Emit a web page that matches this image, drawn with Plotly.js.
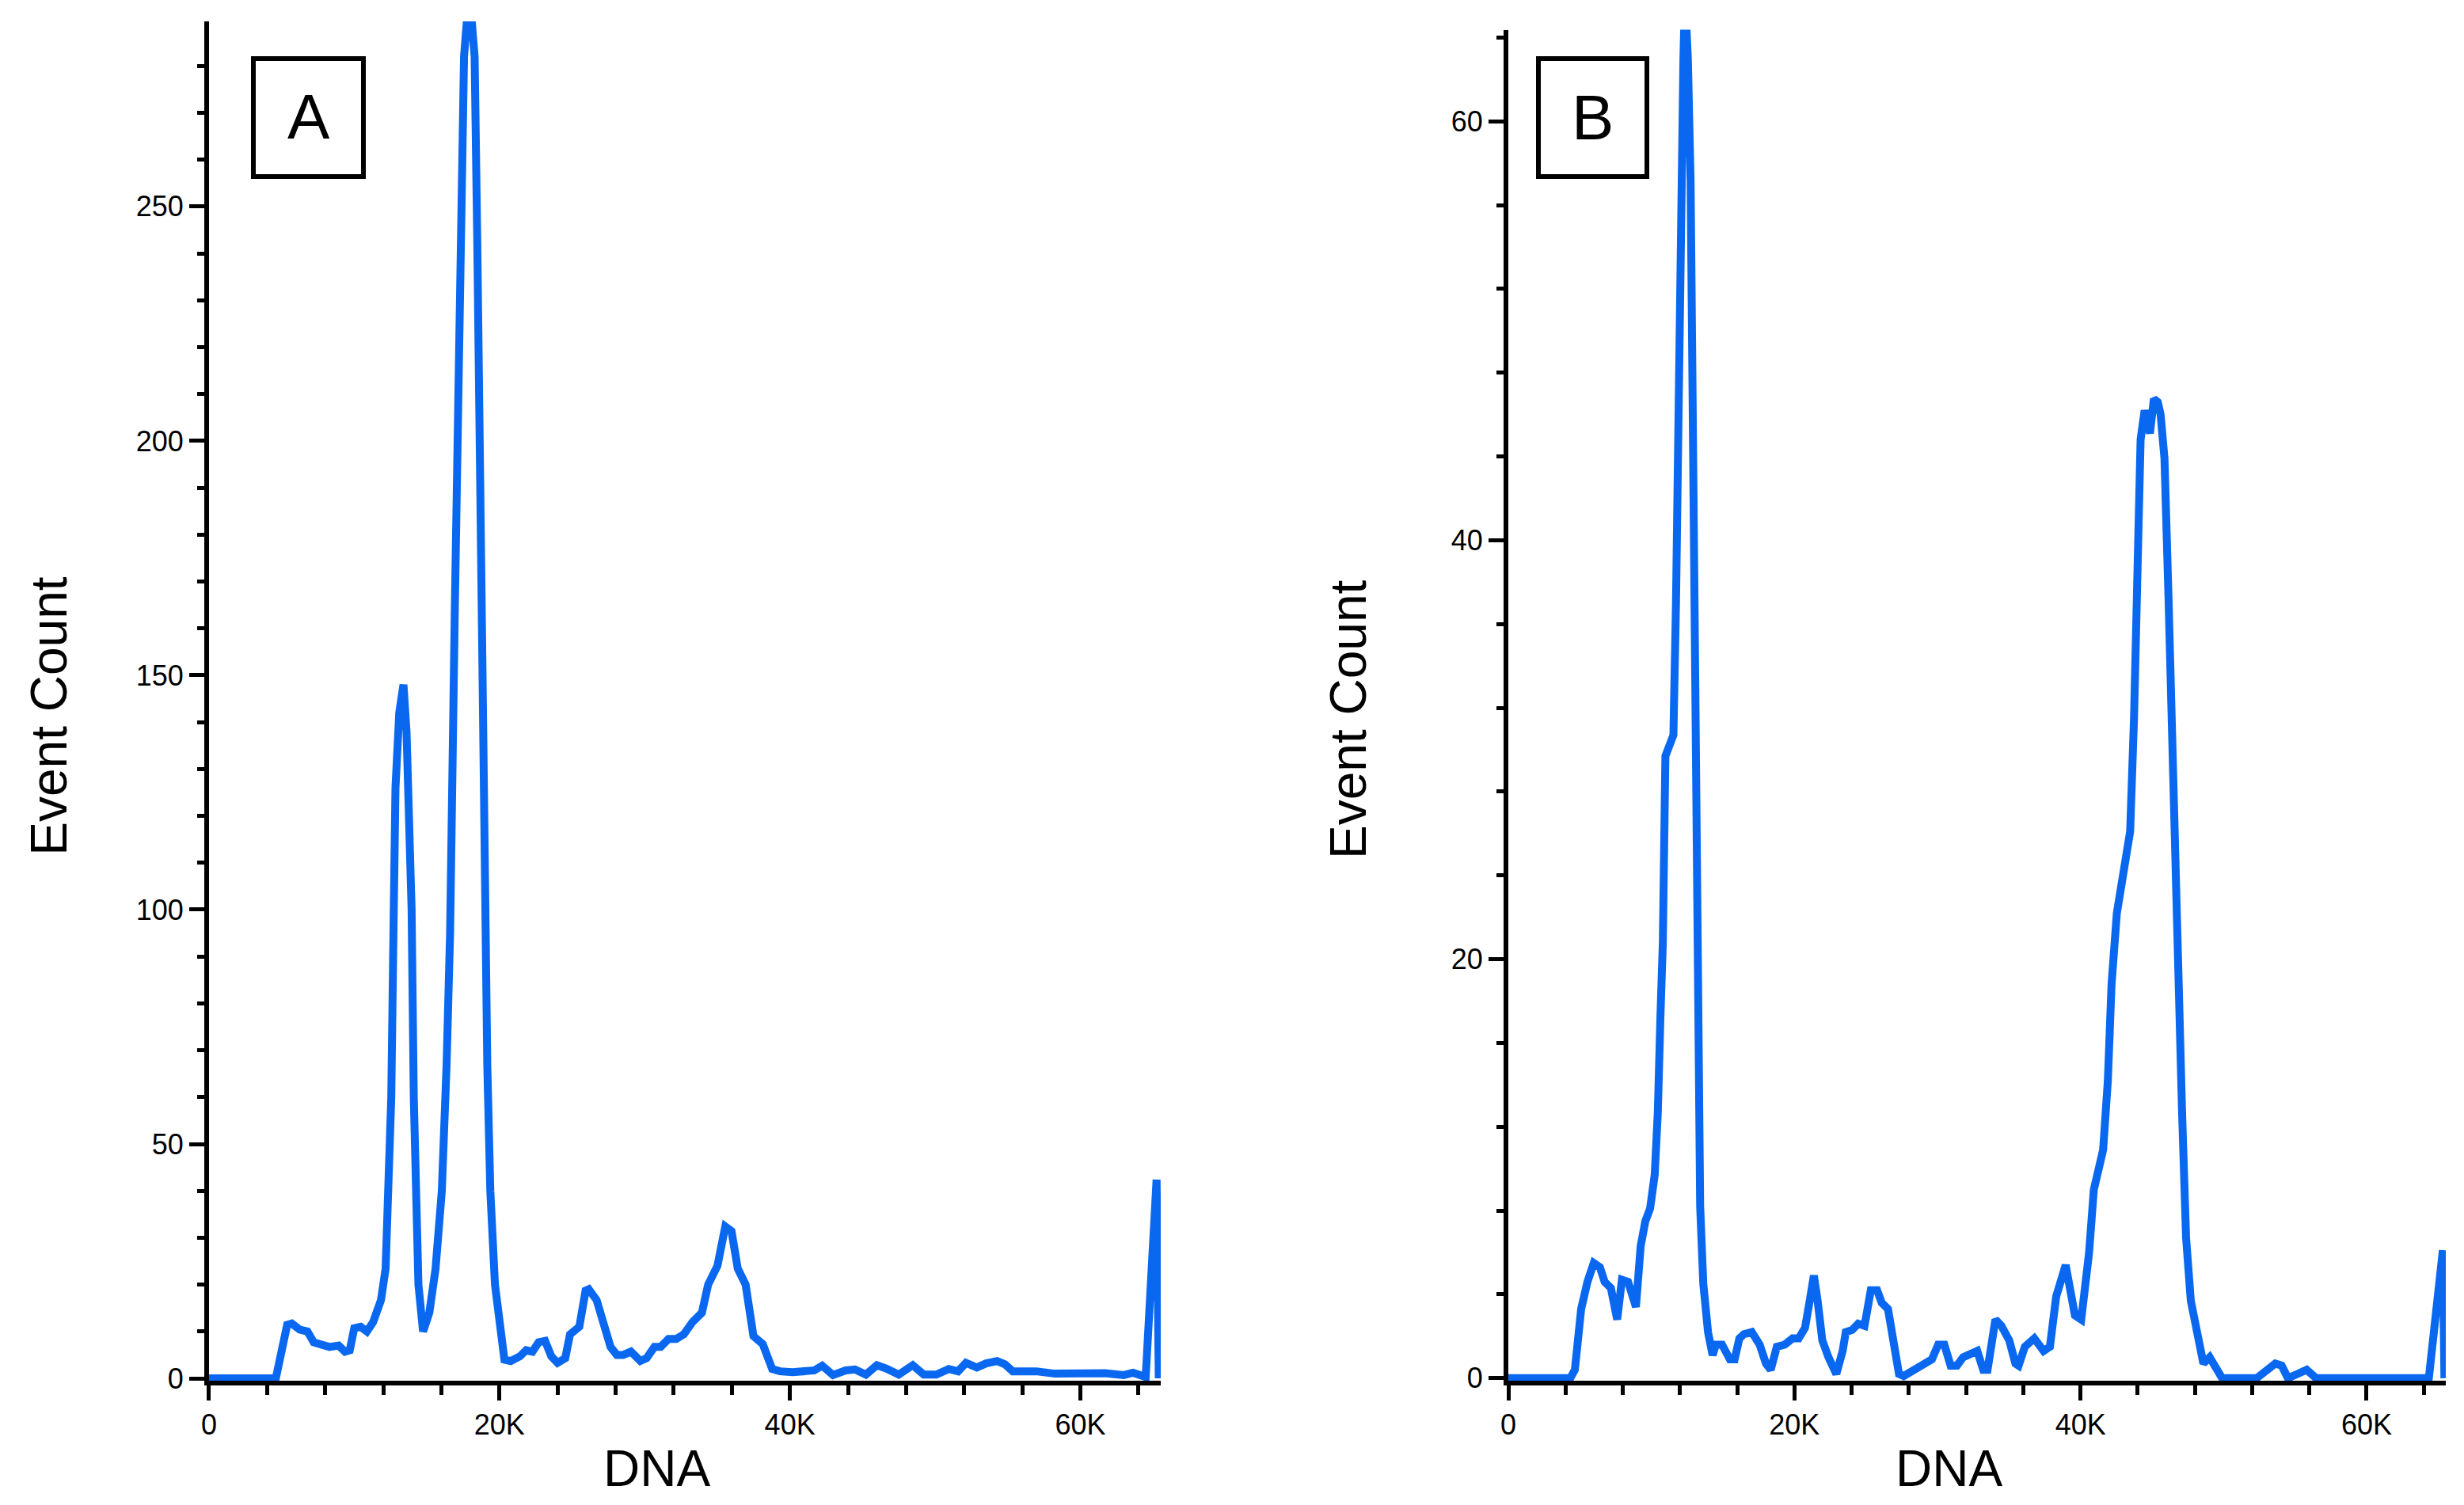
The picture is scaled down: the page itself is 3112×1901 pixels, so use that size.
<!DOCTYPE html>
<html>
<head>
<meta charset="utf-8">
<script src="https://cdn.plot.ly/plotly-3.0.1.min.js"></script>
<style>
  html, body { margin: 0; padding: 0; background: white; }
  #chart { width: 3112px; height: 1901px; }
</style>
</head>
<body>
<div id="chart"></div>
<script>
// Panel A histogram (DNA channel, event count)
const dnaA = [
  0, 4600, 5380, 5700, 6240, 6780, 7210, 7860, 8290, 8930, 9360, 9690,
  10000, 10440, 10870, 11300, 11840, 12160, 12380, 12550, 12700, 12840,
  13100, 13390, 13600, 13750, 13950, 14100, 14420, 14740, 15170, 15600,
  16030, 16360, 16600, 16930, 17200, 17380, 17560, 17920, 18290, 18470,
  18650, 18830, 18970, 19160, 19370, 19690, 20340, 20770, 21410, 21840,
  22270, 22700, 23140, 23570, 24000, 24530, 24860, 25500, 25930, 26150,
  26690, 27220, 27650, 28080, 28520, 29050, 29700, 30130, 30670, 31100,
  31640, 32170, 32700, 33290, 33940, 34370, 35010, 35550, 35980, 36410,
  36950, 37490, 38130, 38780, 39320, 40180, 41040, 41680, 42220, 42970,
  43840, 44480, 45230, 45990, 46630, 47490, 48460, 49220, 50080, 50940,
  51580, 52120, 52870, 53520, 54270, 54810, 55350, 56100, 56960, 58250,
  59760, 61700, 62990, 63630, 64500, 65250, 65400,
];
const countA = [
  0, 0, 11.4, 11.7, 10.4, 10, 7.7, 7.3, 6.7, 7, 5.7, 6,
  10.7, 11, 10, 12, 16.7, 23.4, 40, 60, 95, 126,
  142, 148, 138, 126, 100, 60, 20, 10, 14, 23.4,
  40, 67, 95, 165, 217, 256, 282, 296, 282, 243,
  191, 139, 100, 67, 40, 20, 4, 3.7, 4.7, 6,
  5.7, 7.7, 8, 4.7, 3.3, 4.3, 9.4, 11, 18.7, 19,
  16.7, 10.7, 6.7, 5, 5, 5.7, 3.7, 4.3, 6.7, 6.7,
  8.4, 8.4, 9.4, 12, 14, 20, 24, 32.4, 31.4, 23.4,
  20, 9, 7.3, 2, 1.5, 1.3, 1.5, 1.7, 2.7, 0.7,
  1.7, 1.9, 0.8, 2.8, 2.1, 0.8, 2.8, 0.8, 0.8, 2,
  1.5, 3.3, 2.3, 3.2, 3.7, 3, 1.5, 1.5, 1.5, 1,
  1.1, 1.1, 0.7, 1.2, 0.3, 42.4, 0,
];

// Panel B histogram
const dnaB = [
  0, 4330, 4650, 5090, 5530, 5970, 6400, 6730, 7170, 7610, 7940, 8370,
  8920, 9250, 9580, 9910, 10230, 10450, 10630, 10800, 10980, 11540,
  11720, 11900, 12050, 12240, 12350, 12550, 12740, 12920, 13100, 13300,
  13410, 13630, 13960, 14280, 14500, 14940, 15490, 15820, 16150, 16470,
  17020, 17570, 18010, 18340, 18770, 19320, 19870, 20300, 20740, 21070,
  21360, 21620, 21950, 22380, 22930, 23370, 23590, 24030, 24460, 24900,
  25340, 25780, 26100, 26540, 26980, 27310, 27640, 28400, 28950, 29610,
  30050, 30480, 30920, 31360, 31800, 32340, 32780, 33200, 33500, 34050,
  34470, 35020, 35450, 35670, 36110, 36770, 37420, 37860, 38300, 38960,
  39610, 40050, 40600, 40930, 41360, 41580, 41910, 42170, 42540, 42910,
  43470, 43740, 44020, 44200, 44480, 44850, 45130, 45400, 45600, 45870,
  46150, 46420, 46700, 46900, 47100, 47380, 47710, 48150, 48590, 49030,
  49460, 49900, 52310, 52970, 53620, 54060, 54500, 55160, 55810, 56470,
  64350, 65330, 65440,
];
const countB = [
  0, 0, 0.4, 3.3, 4.6, 5.5, 5.3, 4.6, 4.3, 2.8, 4.7, 4.6,
  3.4, 6.3, 7.5, 8.1, 9.7, 12.7, 17.2, 20.8, 29.7, 30.7,
  37, 48.5, 57.2, 63, 66, 63, 57.2, 45.6, 34, 20,
  8.2, 4.5, 2.2, 1.1, 1.6, 1.6, 0.9, 0.9, 1.9, 2.1,
  2.2, 1.6, 0.7, 0.4, 1.5, 1.6, 1.9, 1.9, 2.4, 3.7,
  4.9, 3.7, 1.8, 1.0, 0.2, 1.3, 2.2, 2.3, 2.6, 2.5,
  4.2, 4.2, 3.6, 3.3, 1.3, 0.2, 0.1, 0.4, 0.6, 0.9,
  1.6, 1.6, 0.6, 0.6, 1.0, 1.2, 1.3, 0.4, 0.4, 2.8,
  2.5, 1.8, 0.7, 0.6, 1.5, 1.9, 1.3, 1.5, 3.9, 5.4,
  3.0, 2.8, 6.0, 9.0, 10.3, 10.9, 14.2, 18.8, 22.2, 23.8,
  26.1, 31.5, 39.2, 44.8, 46.2, 45.1, 46.75, 46.6, 46, 43.9,
  37.3, 29.6, 23.5, 18, 12.7, 6.7, 3.7, 2.2, 0.7, 1.0,
  0.4, 0, 0, 0.4, 0.7, 0.6, 0, 0.2, 0.4, 0,
  0, 6.1, 0,
];

const xTickVals = [0, 20000, 40000, 60000];
const xTickText = ["0", "20K", "40K", "60K"];
const panelLabels = ["A", "B"];

const FONT = "Liberation Sans, Arial, Helvetica, sans-serif";
const BLUE = "#0A68F0";

function makeTrace(x, y, axisSuffix) {
  return {
    x: x,
    y: y,
    type: "scatter",
    mode: "lines",
    xaxis: "x" + axisSuffix,
    yaxis: "y" + axisSuffix,
    line: { color: BLUE, width: 10, shape: "linear" },
    hoverinfo: "x+y",
    showlegend: false,
  };
}

function xAxis(domain, anchor) {
  return {
    domain: domain,
    anchor: anchor,
    range: [0, 65536],
    tickmode: "array",
    tickvals: xTickVals,
    ticktext: xTickText,
    ticks: "outside",
    ticklen: 19,
    tickwidth: 5,
    tickcolor: "black",
    minor: { tickmode: "linear", tick0: 0, dtick: 4000, ticks: "outside", ticklen: 12, tickwidth: 5, tickcolor: "black" },
    showline: true,
    linewidth: 6,
    linecolor: "black",
    showgrid: false,
    zeroline: false,
    tickfont: { family: FONT, size: 36, color: "black" },
    fixedrange: true,
  };
}

function yAxis(domain, anchor, range, dtick, minorDtick) {
  return {
    domain: domain,
    anchor: anchor,
    range: range,
    tickmode: "linear",
    tick0: 0,
    dtick: dtick,
    ticks: "outside",
    ticklen: 19,
    tickwidth: 5,
    tickcolor: "black",
    minor: { tickmode: "linear", tick0: 0, dtick: minorDtick, ticks: "outside", ticklen: 9, tickwidth: 5, tickcolor: "black" },
    showline: true,
    linewidth: 6,
    linecolor: "black",
    showgrid: false,
    zeroline: false,
    tickfont: { family: FONT, size: 36, color: "black" },
    fixedrange: true,
  };
}

function textNote(text, x, y, size, angle) {
  return {
    text: text,
    xref: "paper",
    yref: "paper",
    x: x,
    y: y,
    xanchor: "center",
    yanchor: "middle",
    showarrow: false,
    textangle: angle || 0,
    font: { family: FONT, size: size, color: "black" },
  };
}

function labelBox(x0, x1) {
  return {
    type: "rect",
    xref: "paper",
    yref: "paper",
    x0: x0,
    x1: x1,
    y0: 0.8827,
    y1: 0.9611,
    line: { color: "black", width: 6 },
    fillcolor: "rgba(0,0,0,0)",
  };
}

const data = [makeTrace(dnaA, countA, ""), makeTrace(dnaB, countB, "2")];

const layout = {
  width: 3112,
  height: 1901,
  margin: { l: 0, r: 0, t: 0, b: 0 },
  paper_bgcolor: "white",
  plot_bgcolor: "white",
  showlegend: false,
  xaxis: xAxis([0.08483, 0.47108], "y"),
  yaxis: yAxis([0.08259, 0.9858], "x", [-0.5, 289.5], 50, 10),
  xaxis2: xAxis([0.61215, 0.99261], "y2"),
  yaxis2: yAxis([0.08259, 0.98022], "x2", [-0.12, 64.37], 20, 4),
  annotations: [
    textNote("Event Count", 0.0198, 0.5239, 64, -90),
    textNote("Event Count", 0.5472, 0.5218, 64, -90),
    textNote("DNA", 0.2664, 0.0242, 64),
    textNote("DNA", 0.7911, 0.0242, 64),
    textNote(panelLabels[0], 0.1253, 0.9222, 80),
    textNote(panelLabels[1], 0.6464, 0.9217, 80),
  ],
  shapes: [labelBox(0.10283, 0.14749), labelBox(0.62436, 0.66838)],
};

Plotly.newPlot("chart", data, layout, { displayModeBar: false, staticPlot: true });
</script>
</body>
</html>
